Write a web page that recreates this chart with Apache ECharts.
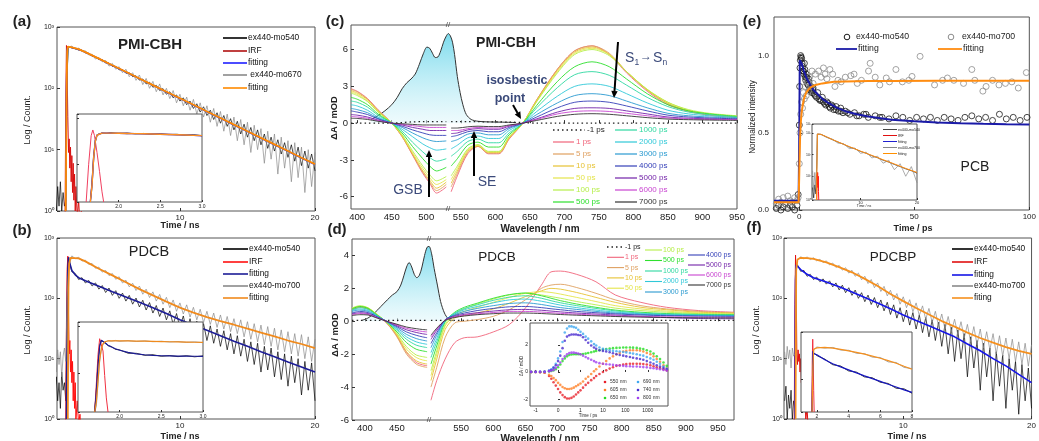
<!DOCTYPE html>
<html><head><meta charset="utf-8">
<script src="https://cdn.jsdelivr.net/npm/echarts@6/dist/echarts.min.js"></script>
<style>html,body{margin:0;padding:0;background:#fff}#c{width:1039px;height:441px}</style>
</head><body><div id="c"></div>
<script>
// ---------------- DATA ----------------
const tDecay = [0.75,0.85,0.95,1.05,1.15,1.25,1.35,1.45,1.55,1.65,1.75,2,2.25,2.5,2.75,3,3.25,3.5,3.75,4,4.25,4.5,4.75,5,5.25,5.5,5.75,6,6.25,6.5,6.75,7,7.25,7.5,7.75,8,8.25,8.5,8.75,9,9.25,9.5,9.75,10,10.25,10.5,10.75,11,11.25,11.5,11.75,12,12.25,12.5,12.75,13,13.25,13.5,13.75,14,14.25,14.5,14.75,15,15.25,15.5,15.75,16,16.25,16.5,16.75,17,17.25,17.5,17.75,18,18.25,18.5,18.75,19,19.25,19.5,19.75,20];
const aBlack = [1.5,1,2.5,1.2,3,1,2,1.2,1.5,200, 480,455,445,420,420,380,372,335,330,295,292,260,258,228,228,200,202,176,180,155,160,136,142,118,126,104,112,92,99,80,88,70,78,62,70,54,62,47,56,41,50,36,44,31,40,27,36,24,32,21,29,18,26,16,23,14,21,12,18,10.5,16,9.5,14.5,8.5,13,7.5,12,6.5,11,5.5,9.5,5,8.5,4.5];
const aGray = [0.5,0.5,0.5,0.5,0.5,0.5,0.5,0.5,1,180, 470,490,430,455,395,410,350,360,300,320,270,285,230,255,205,225,180,205,155,180,135,165,115,145,100,130,88,118,78,100,68,92,58,80,52,72,44,66,38,58,34,52,28,47,24,42,20,38,17,34,14,31,12,28,9,25,10,22,6,20,7,18,4,16,5,14,3,13,3.5,11,2,10,2.5,9];
const bBlack = [3,5,2,4,1.5,6,3,4,2,60, 470,275,258,205,220,180,198,160,180,142,163,125,148,112,134,100,122,90,112,80,101,72,93,64,85,57,76,50,69,44,62,37,56,33,51,29,46,25,42,23,38,20,35,18,31,16,29,14,26,12,24,11,21,9,19,8,18,6,16,6.5,15,5,13,4.5,12,3.5,11,4,10,2.5,9,3,8.5,2];
const bGray = [12,6,14,8,13,5,11,15,9,100, 320,505,455,480,415,430,365,378,315,330,272,290,238,258,207,228,180,200,155,178,135,160,117,142,103,128,90,116,80,104,70,94,61,84,55,78,49,71,44,66,40,61,37,57,33,53,31,50,28,46,26,44,23,41,21,38,19,36,17,34,16,32,14,30,13,28,12,26,11,25,10,23,9,21];
const fBlack = [2,3.5,1,2.5,1.5,3,1,2,1.5,300, 360,280,290,232,250,205,225,188,210,172,195,155,180,138,165,124,150,112,137,100,124,88,113,79,103,70,94,62,86,54,78,47,70,41,64,36,58,31,53,27,48,23,44,20,40,16,37,12,33,9,30,10,26,5,23,7,20,3,18,5,15,2,13,3.5,11.5,1.5,10,3,9,1.2,8,2,7,1.5];
const fGray = [13,8,16,10,14,7,15,11,12,250, 430,490,450,485,440,470,418,445,390,418,358,385,325,352,293,322,262,292,232,262,203,232,176,205,150,180,130,158,110,136,94,120,80,106,70,95,60,84,52,75,45,68,40,61,35,55,31,50,28,45,25,41,22,37,19,34,17,31,15,28,14,26,12,24,11,22,10,21,9,19,8,18,7.5,17];
const tIRF = [1.45,1.5,1.55,1.6,1.65,1.7,1.75,1.8,1.85,1.9,1.95,2,2.05,2.1,2.15,2.2,2.25,2.3,2.4,2.5,2.6,2.7,2.8];
const irfA = [0.5,1,60,500,220,35,9,15,5,11,3,8,2,6,1.5,4,1,2.5,0.8,1.5,0.6,1,0.5];
const irfB = [0.5,0.5,1,40,300,500,60,12,20,6,14,4,9,2,6,1.5,4,1,2,0.8,1.2,0.5,0.5];
const irfF = [0.5,1,80,520,200,12,8,14,9,12,6,10,4,7,2,5,1.5,3,1,1.5,0.6,0.5,0.5];
const aFitT = [1.55,1.6,1.65,1.7,2,2.5,3,4,5,6,7,8,9,10,11,12,13,14,15,16,17,18,19,20];
const aOrange = [1,60,400,480,465,435,390,305,238,186,145,113,88,69,54,42,32.8,25.6,20,15.6,12.2,9.5,7.4,5.8];
const aBlue = [1,80,420,478,462,432,388,303,236,184,144,112,87,68,53.5,41.5,32.5,25.3,19.8,15.4,12,9.4,7.3,5.7];
const bFitT = [1.6,1.65,1.7,1.75,1.85,2,2.25,2.5,3,4,5,6,7,8,9,10,11,12,13,14,15,16,17,18,19,20];
const bBlue = [1,50,300,480,380,290,245,220,195,158,128,105,86,70,56,44,36,29.5,24,19.5,16,13,10.8,8.8,7.3,6];
const bOrangeT = [1.7,1.75,1.8,1.9,2,2.5,3,4,5,6,7,8,9,10,11,12,13,14,15,16,17,18,19,20];
const bOrange = [1,150,380,470,485,460,410,310,240,185,142,112,88,70,58,49,42,36.5,31.5,27,23.5,20,17.5,15];
const fBlueT = [1.55,1.6,1.65,1.75,2,2.5,3,4,5,6,7,8,9,10,11,12,13,14,15,16,17,18,19,20];
const fBlue = [1,200,360,340,300,250,220,187,155,127,103,84,67,53,43,35,28.5,23,17.5,13.5,10,7.6,5.5,4];
const fOrangeT = [1.6,1.65,1.75,2,2.5,3,4,5,6,7,8,9,10,11,12,13,14,15,16,17,18,19,20];
const fOrange = [1,300,440,470,465,450,395,330,270,210,160,118,90,69,54,42,34,27,22,18.5,15.5,13.5,12];
// insets of decays
const tInA = [1.66,1.68,1.7,1.72,1.74,1.76,1.8,1.85,1.9,2.0,2.1,2.2,2.3,2.4,2.5,2.6,2.7,2.8,2.9,3.0];
const aInBlack = [15,40,150,330,440,470,480,470,485,472,478,462,470,455,460,445,450,432,438,420];
const aInGray = [15,30,120,300,420,465,475,482,470,480,465,470,458,462,448,452,440,440,428,425];
const aInOrange = [15,35,140,320,430,468,478,478,477,474,470,466,462,457,452,446,440,434,428,421];
const aInBlue = [15,38,145,325,432,469,479,479,476,473,469,465,461,456,451,445,439,433,427,420];
const irfInAT = [1.61,1.64,1.67,1.69,1.71,1.74,1.77,1.8,1.82];
const irfInA = [15,100,420,560,420,180,70,25,15];
const tInB = [1.7,1.72,1.74,1.76,1.78,1.8,1.83,1.86,1.9,1.95,2.0,2.1,2.2,2.3,2.4,2.5,2.6,2.7,2.8,2.9,3.0];
const bInBlue = [15,40,150,380,510,490,440,400,365,335,312,280,262,250,243,238,236,234,233,232,231];
const bInBlack = [15,45,160,400,500,480,450,390,375,325,318,270,268,243,250,232,240,228,238,226,236];
const bInOrange = [15,25,70,200,340,430,480,492,496,496,495,492,489,486,482,478,474,470,466,462,458];
const bInGray = [15,20,60,180,320,420,470,500,488,505,485,500,480,494,474,486,468,478,460,470,452];
const irfInBT = [1.7,1.72,1.74,1.76,1.78,1.8,1.82,1.84,1.86];
const irfInB = [15,60,250,550,600,300,90,30,15];
const tInF = [1.7,1.75,1.8,2,2.5,3,3.5,4,4.5,5,5.5,6,6.5,7,7.5,8];
const fInOrange = [21,200,430,460,470,455,430,400,370,340,310,280,250,220,190,165];
const fInGray = [21,180,420,480,455,470,415,410,355,350,295,290,235,228,180,170];
const fInBlue = [21,390,350,330,260,215,185,160,138,120,105,92,80,70,61,54];
const fInBlack = [21,380,360,318,268,205,192,152,143,114,109,88,83,66,64,52];
const irfInFT = [1.68,1.71,1.74,1.77,1.8,1.83];
const irfInF = [21,250,700,250,60,21];
const tInE = [1.5,1.7,1.9,2.1,2.25,2.35,2.5,3,4,5,6,7,8,9,10,11,12,13,14,15,16,17,18,19,20];
const eInGray = [18,2,15,3,50,900,960,840,620,520,340,320,190,200,115,130,70,85,40,55,20,38,10,28,5];
const eInBlack = [3,1,4,1.5,30,880,990,870,650,490,380,300,225,185,140,115,88,72,55,45,35,28,22,18,14];
const eInFitT = [2.2,2.35,2.5,3,4,5,6,7,8,10,12,14,16,18,20];
const eInOrange = [0.8,900,980,860,660,500,390,300,235,145,92,58,37,23,15];
const irfInET = [2.25,2.3,2.35,2.4,2.45,2.5,2.55,2.6];
const irfInE = [0.8,12,4,15,3,10,2,0.8];
// (e) normalized kinetics (ps)
const eBlackT = [-10,-9,-8,-7,-6,-5,-4,-3,-2,-1,-0.5,0,0.3,0.6,1,1.4,1.8,2.2,2.6,3,3.5,4,4.5,5,5.5,6,7,8,9,10,11,12,13,14,15,16,17,18,19,20,22,24,26,28,30,33,36,39,42,45,48,51,54,57,60,63,66,69,72,75,78,81,84,87,90,93,96,99];
const eBlack = [0.01,0.03,0.0,0.02,0.04,0.01,0.03,0.02,0.0,0.03,0.1,0.55,0.92,1.0,0.98,0.93,0.9,0.95,0.86,0.88,0.82,0.85,0.78,0.8,0.76,0.79,0.74,0.76,0.71,0.73,0.69,0.7,0.67,0.68,0.65,0.67,0.64,0.66,0.63,0.64,0.62,0.63,0.61,0.62,0.6,0.61,0.6,0.59,0.61,0.6,0.58,0.6,0.59,0.6,0.58,0.6,0.59,0.58,0.6,0.61,0.59,0.6,0.58,0.62,0.59,0.6,0.58,0.6];
const eBlack2T = [0.15,0.45,0.8,1.2,1.6,2.0,2.4,2.8,3.2,3.8,4.2,4.8,5.2,5.8,6.5,7.5,8.5,9.5,10.5,11.5,12.5,13.5,14.5,16,18,21,25,29,35];
const eBlack2 = [0.8,0.97,0.99,0.95,0.9,0.88,0.91,0.84,0.86,0.81,0.83,0.79,0.77,0.78,0.75,0.73,0.72,0.71,0.7,0.68,0.69,0.66,0.67,0.65,0.64,0.63,0.61,0.62,0.6];
const eGrayT = [-10,-9,-8,-7,-6,-5,-4,-3,-2,-1,-0.5,0,0.3,0.6,1,1.4,1.8,2.2,2.6,3,3.5,4,4.5,5,5.5,6,7,8.4,9.5,10.5,11.2,12,13.3,14.5,15.5,16.8,18.2,20,22.4,23.8,25.2,27,30.1,30.8,33,35,37.8,39.2,42,44.8,47.6,49,52.5,58.8,62.3,64.4,67.2,71.4,75,76.3,79.8,81.2,84,86.8,89.6,92.4,95.2,98.7];
const eGray = [0.04,0.07,0.05,0.08,0.04,0.09,0.06,0.05,0.08,0.06,0.08,0.3,0.5,0.62,0.7,0.66,0.76,0.72,0.8,0.74,0.83,0.77,0.86,0.8,0.9,0.82,0.88,0.9,0.86,0.92,0.88,0.85,0.91,0.88,0.8,0.84,0.83,0.86,0.87,0.88,0.82,0.84,0.9,0.95,0.86,0.81,0.855,0.83,0.91,0.83,0.84,0.865,0.995,0.81,0.84,0.855,0.84,0.82,0.91,0.84,0.77,0.8,0.84,0.81,0.82,0.83,0.79,0.89];
const eBlueT = [-11,-0.3,0,0.2,0.5,1,2,3,4,6,8,10,13,16,20,25,30,40,50,60,70,80,90,100];
const eBlue = [0.06,0.06,0.5,0.97,0.98,0.95,0.9,0.86,0.83,0.78,0.75,0.72,0.69,0.665,0.64,0.62,0.605,0.585,0.575,0.567,0.562,0.558,0.555,0.553];
const eOrangeT = [-11,-0.3,0,0.3,0.6,1,1.5,2,3,4,5,7,10,15,20,30,40,60,80,100];
const eOrange = [0.05,0.05,0.25,0.45,0.56,0.63,0.68,0.72,0.76,0.78,0.795,0.81,0.82,0.83,0.833,0.835,0.836,0.837,0.837,0.837];
// (c) TA spectra PMI-CBH (11 points before the axis break, 19 after)
const wlC = [391,400,415,430,450,465,480,495,505,515,529,536,545,560,575,590,605,620,640,660,690,715,740,765,790,820,850,880,910,950];
const cM1 = [0,0,0,0,0,0.05,0.1,0.12,0.12,0.12,0.12,0.12,0.12,0.12,0.12,0.1,0.1,0.08,0.05,0,0,0,0,0,0,0,0,0,0,0];
const c1 = [2.8,2.6,2.0,1.1,0,-1.1,-2.6,-4.1,-4.9,-5.7,-5.2,-5.6,-4.3,-2.5,-1.9,-2.5,-2.5,-1.3,0,1.9,4.4,5.9,6.3,5.6,4.1,2.6,1.5,0.95,0.65,0.45];
const c5 = [2.75,2.55,1.95,1.05,0,-1.1,-2.55,-4.0,-4.8,-5.5,-5.0,-5.2,-4.1,-2.4,-1.9,-2.45,-2.45,-1.25,0,1.9,4.4,5.9,6.3,5.7,4.2,2.7,1.6,1.0,0.7,0.5];
const c10 = [2.65,2.45,1.9,1.0,0,-1.05,-2.5,-3.9,-4.65,-5.3,-4.8,-4.9,-3.9,-2.3,-1.85,-2.4,-2.4,-1.2,0,1.85,4.3,5.8,6.2,5.6,4.2,2.7,1.6,1.0,0.7,0.5];
const c50 = [2.55,2.35,1.8,0.95,0,-1.0,-2.4,-3.7,-4.45,-5.0,-4.6,-4.6,-3.7,-2.2,-1.8,-2.35,-2.35,-1.15,0,1.8,4.2,5.7,6.1,5.6,4.2,2.75,1.7,1.05,0.75,0.55];
const c100 = [2.45,2.25,1.75,0.9,0,-0.95,-2.25,-3.5,-4.2,-4.7,-4.35,-4.3,-3.5,-2.1,-1.75,-2.3,-2.3,-1.1,0,1.75,4.1,5.6,6.0,5.5,4.2,2.75,1.7,1.1,0.8,0.6];
const c500 = [2.1,1.95,1.5,0.75,0,-0.8,-1.9,-2.9,-3.5,-3.9,-3.6,-3.5,-2.9,-1.8,-1.55,-1.95,-1.95,-0.95,0,1.45,3.4,4.6,5.0,4.6,3.6,2.4,1.5,1.0,0.75,0.55];
const c1000 = [1.8,1.7,1.3,0.65,0,-0.65,-1.55,-2.35,-2.8,-3.1,-2.9,-2.7,-2.3,-1.5,-1.3,-1.6,-1.6,-0.8,0,1.25,2.9,3.95,4.2,3.9,3.1,2.1,1.35,0.9,0.7,0.5];
const c2000 = [1.5,1.4,1.05,0.5,0,-0.5,-1.1,-1.7,-2.0,-2.2,-2.1,-2.1,-1.8,-1.2,-1.05,-1.25,-1.25,-0.6,0,0.95,2.2,3.0,3.2,3.0,2.4,1.65,1.05,0.75,0.6,0.45];
const c3000 = [1.2,1.1,0.85,0.4,0,-0.35,-0.8,-1.2,-1.4,-1.5,-1.45,-1.5,-1.35,-0.9,-0.8,-0.95,-0.95,-0.45,0,0.7,1.65,2.25,2.4,2.25,1.8,1.25,0.8,0.6,0.5,0.4];
const c4000 = [1.0,0.9,0.7,0.35,0,-0.25,-0.55,-0.8,-0.95,-1.0,-1.0,-1.1,-1.0,-0.7,-0.6,-0.7,-0.7,-0.35,0,0.5,1.25,1.7,1.8,1.7,1.4,1.0,0.65,0.5,0.42,0.35];
const c5000 = [0.7,0.65,0.5,0.25,0,-0.15,-0.35,-0.5,-0.6,-0.6,-0.6,-0.85,-0.8,-0.55,-0.45,-0.5,-0.5,-0.25,0,0.35,0.9,1.2,1.25,1.2,1.0,0.75,0.5,0.4,0.35,0.3];
const c6000 = [0.55,0.5,0.4,0.2,0,-0.1,-0.2,-0.3,-0.35,-0.35,-0.35,-0.6,-0.6,-0.45,-0.35,-0.4,-0.4,-0.2,0,0.3,0.75,0.95,1.0,0.95,0.8,0.6,0.42,0.35,0.3,0.28];
const c7000 = [0.4,0.38,0.3,0.15,0,-0.05,-0.1,-0.15,-0.15,-0.15,-0.15,-0.4,-0.4,-0.3,-0.25,-0.28,-0.28,-0.15,0,0.22,0.55,0.72,0.77,0.72,0.6,0.45,0.33,0.28,0.25,0.22];
const absWlC = [420,430,440,450,458,465,472,478,484,490,496,501,505,509,513,517,521,525,529,532,535,538,541,545,549,553,558,565,575,590,610,630];
const absC = [0.3,0.6,1.0,1.5,2.1,2.8,3.3,3.6,4.0,4.8,5.7,6.2,6.1,5.7,5.35,5.4,5.9,6.6,7.1,7.3,7.1,6.6,5.6,3.8,2.5,1.5,0.7,0.3,0.15,0.1,0.08,0.05];
// (d) TA spectra PDCB (10 points before the break, 19 after)
const wlD = [380,392,405,420,435,450,465,480,490,497,503,512,525,540,555,575,600,625,650,675,690,705,730,760,790,830,870,920,975];
const dM1 = [0.05,0.05,0.05,0.05,0.05,0.05,0.05,0.05,0.05,0.05,0.05,0.05,0.05,0.05,0.05,0.05,0.05,0.05,0.05,0.05,0.05,0.05,0.05,0.05,0.05,0.05,0.05,0.05,0.05];
const d1 = [0.7,0.85,0.75,0.35,-0.15,-0.9,-1.9,-2.5,-2.65,-2.7,-4.8,-3.6,-2.3,-1.3,-1.0,-0.95,-0.65,-0.2,0.8,2.2,3.0,3.05,2.85,2.4,1.6,1.15,0.85,0.65,0.55];
const d5 = [0.7,0.85,0.75,0.35,-0.15,-0.95,-2.0,-2.6,-2.75,-2.8,-4.0,-2.8,-1.0,-0.1,0.0,0.1,0.3,0.7,1.3,2.0,2.2,2.25,2.05,1.7,1.3,0.95,0.75,0.6,0.5];
const d10 = [0.75,0.9,0.8,0.38,-0.1,-0.85,-1.85,-2.4,-2.55,-2.6,-3.6,-2.3,-0.5,0.2,0.35,0.5,0.75,1.1,1.5,1.85,2.0,1.95,1.75,1.45,1.15,0.85,0.7,0.55,0.5];
const d50 = [0.8,0.9,0.8,0.38,-0.1,-0.8,-1.7,-2.2,-2.35,-2.4,-3.3,-2.0,-0.3,0.35,0.6,0.85,1.15,1.45,1.7,1.8,1.75,1.65,1.45,1.2,0.95,0.75,0.62,0.5,0.45];
const d100 = [0.8,0.95,0.82,0.38,-0.1,-0.75,-1.55,-2.05,-2.15,-2.2,-3.0,-1.8,-0.2,0.45,0.75,1.05,1.35,1.6,1.7,1.6,1.5,1.4,1.2,1.0,0.8,0.65,0.55,0.47,0.43];
const d500 = [0.75,0.9,0.78,0.35,-0.08,-0.65,-1.3,-1.7,-1.8,-1.85,-2.6,-1.5,-0.05,0.55,0.85,1.1,1.4,1.62,1.72,1.55,1.4,1.25,1.05,0.85,0.68,0.55,0.47,0.42,0.4];
const d1000 = [0.7,0.82,0.72,0.33,-0.05,-0.55,-1.1,-1.45,-1.55,-1.6,-2.2,-1.25,0.0,0.5,0.78,1.0,1.27,1.47,1.55,1.4,1.25,1.12,0.95,0.78,0.63,0.5,0.44,0.4,0.38];
const d2000 = [0.65,0.75,0.66,0.3,-0.05,-0.48,-0.95,-1.25,-1.35,-1.4,-1.9,-1.05,0.05,0.45,0.7,0.9,1.12,1.3,1.35,1.22,1.1,0.98,0.83,0.68,0.56,0.46,0.4,0.37,0.35];
const d3000 = [0.6,0.68,0.6,0.28,-0.03,-0.4,-0.8,-1.05,-1.15,-1.2,-1.6,-0.85,0.08,0.4,0.6,0.78,0.95,1.08,1.12,1.02,0.92,0.83,0.72,0.6,0.5,0.42,0.37,0.34,0.32];
const d4000 = [0.5,0.6,0.53,0.25,-0.02,-0.33,-0.65,-0.85,-0.95,-1.0,-1.35,-0.7,0.08,0.35,0.5,0.65,0.78,0.88,0.9,0.83,0.76,0.7,0.6,0.52,0.45,0.38,0.34,0.31,0.3];
const d5000 = [0.45,0.52,0.47,0.22,-0.02,-0.27,-0.52,-0.68,-0.76,-0.8,-1.1,-0.55,0.08,0.3,0.42,0.52,0.62,0.7,0.72,0.67,0.62,0.57,0.5,0.44,0.38,0.3,0.22,0.17,0.15];
const d6000 = [0.4,0.47,0.42,0.2,-0.01,-0.22,-0.43,-0.56,-0.62,-0.65,-0.95,-0.48,0.06,0.27,0.37,0.45,0.53,0.6,0.6,0.56,0.52,0.48,0.43,0.38,0.33,0.29,0.27,0.25,0.24];
const d7000 = [0.35,0.4,0.38,0.18,-0.01,-0.18,-0.35,-0.45,-0.5,-0.52,-0.85,-0.42,0.05,0.23,0.32,0.4,0.46,0.5,0.5,0.47,0.44,0.41,0.37,0.33,0.29,0.25,0.23,0.21,0.2];
const absWlD = [395,405,415,425,435,443,450,456,461,465,469,473,477,481,485,489,493,497,500,504,508,513,518,524,530,538];
const absD = [0.05,0.2,0.5,0.9,1.3,1.6,1.8,2.2,2.8,3.3,3.57,3.3,2.85,2.65,2.8,3.3,4.0,4.5,4.55,4.1,3.2,2.2,1.2,0.5,0.15,0.03];
// (d) inset kinetics (ps)
const tInD = [-1.2,-1,-0.8,-0.6,-0.4,-0.3,-0.2,-0.1,0,0.1,0.2,0.3,0.4,0.5,0.6,0.7,0.8,0.9,1,1.3,1.7,2.2,3,4,5,7,10,14,20,28,40,56,80,110,160,220,320,450,630,900,1300,1800,2500,3500,5000,7000];
const k550 = [0,0.02,-0.02,-0.05,-0.3,-0.5,-0.75,-1.0,-1.25,-1.5,-1.7,-1.85,-1.95,-1.95,-1.9,-1.8,-1.65,-1.5,-1.35,-1.15,-0.95,-0.8,-0.6,-0.45,-0.3,-0.15,0,0.12,0.25,0.35,0.45,0.5,0.55,0.58,0.6,0.6,0.6,0.6,0.58,0.55,0.5,0.42,0.35,0.28,0.2,0.12];
const k605 = [0,-0.02,0,-0.05,-0.2,-0.3,-0.45,-0.6,-0.8,-0.95,-1.1,-1.2,-1.25,-1.25,-1.22,-1.15,-1.05,-0.95,-0.85,-0.7,-0.5,-0.35,-0.15,0.05,0.2,0.4,0.6,0.8,1.0,1.15,1.3,1.4,1.5,1.55,1.6,1.6,1.6,1.57,1.5,1.4,1.3,1.15,0.95,0.75,0.5,0.3];
const k650 = [0,0.01,0,0.02,0.04,0.08,0.12,0.2,0.35,0.55,0.8,1.0,1.15,1.25,1.28,1.3,1.3,1.3,1.3,1.32,1.35,1.4,1.45,1.5,1.55,1.6,1.65,1.68,1.72,1.75,1.77,1.78,1.8,1.8,1.8,1.79,1.77,1.73,1.68,1.6,1.5,1.35,1.15,0.95,0.7,0.45];
const k690 = [0.02,0,0.03,0,0.1,0.2,0.35,0.6,1.0,1.5,2.2,2.9,3.2,3.35,3.35,3.3,3.25,3.1,2.95,2.8,2.6,2.45,2.25,2.05,1.95,1.8,1.7,1.65,1.6,1.55,1.52,1.5,1.47,1.44,1.4,1.35,1.3,1.25,1.2,1.1,1.0,0.9,0.75,0.6,0.4,0.25];
const k740 = [0,0.02,0,0.03,0.08,0.15,0.3,0.5,0.8,1.2,1.75,2.3,2.6,2.7,2.75,2.75,2.75,2.72,2.7,2.55,2.35,2.15,1.95,1.8,1.7,1.6,1.55,1.5,1.45,1.38,1.3,1.25,1.2,1.15,1.1,1.05,1.0,0.95,0.9,0.8,0.7,0.6,0.5,0.4,0.3,0.2];
const k800 = [0.01,0,0.02,0,0.05,0.1,0.15,0.3,0.5,0.7,0.95,1.15,1.3,1.4,1.42,1.42,1.4,1.35,1.3,1.2,1.1,1.0,0.9,0.8,0.72,0.65,0.6,0.57,0.55,0.52,0.5,0.47,0.45,0.43,0.42,0.4,0.4,0.38,0.36,0.34,0.3,0.27,0.23,0.2,0.15,0.1];
// ticks and labels
const xTicksC = [400,450,500,550,600,650,700,750,800,850,900,950];
const xTicksD = [400,450,550,600,650,700,750,800,850,900,950];
const dInTickT = [-1,0,1,10,100,1000];
const dInTickLbl = ['-1','0','1','10','100','1000'];
const taLabels = ['-1 ps','1 ps','5 ps','10 ps','50 ps','100 ps','500 ps','1000 ps','2000 ps','3000 ps','4000 ps','5000 ps','6000 ps','7000 ps'];
const taColors = ['#222','#f0647a','#dfa060','#e6c232','#e4e44a','#b6ee4a','#2ee02e','#2ed8a0','#30c8d8','#2a9ad0','#3540b8','#7222a8','#c844d0','#333'];
const kinLabels = ['550 nm','605 nm','650 nm','690 nm','740 nm','800 nm'];
const kinColors = ['#e8202a','#ff7f27','#22dd22','#3fa8f0','#4a2cd0','#a040f0'];
const legA = [['ex440-mo540','#000'],['IRF','#b01010'],['fitting','#1f1fff'],[' ex440-mo670','#8a8a8a'],['fitting','#ff8a00']];
const legB = [['ex440-mo540','#000'],['IRF','#ff1010'],['fitting','#1c1c96'],['ex440-mo700','#8a8a8a'],['fitting','#f08a1c']];
const legF = [['ex440-mo540','#000'],['IRF','#e01010'],['fitting','#1515e6'],['ex440-mo700','#8a8a8a'],['fiting','#f5901e']];
const legEIn = [['ex440-mo540','#444'],['IRF','#e01010'],['fitting','#2020d0'],['ex440-mo700','#888'],['fitting','#ff9000']];

// ---------------- LAYOUT ----------------
const F = '"Liberation Sans", Arial, sans-serif';
const G = {a:[57,27,258,184], aIn:[77,114,125,88], b:[57,238,258,181], bIn:[78,322,125,90],
  c:[351,25,386,184], d:[352,239,382,181], dIn:[530,323,138,83],
  e:[774,17,264,193], eIn:[812,124,105,76], f:[784,238,256,181], fIn:[801,332,111,80]};
const order = ['a','aIn','b','bIn','c','d','dIn','e','eIn','f','fIn'];
const INSET = new Set([1,3,6,8,10]);
const tu = t => t <= 1 ? t : 1 + Math.log10(t);
const sup = {0:'\u2070',1:'\u00B9',2:'\u00B2',3:'\u00B3'};
const logLbl = v => '10' + (sup[Math.round(Math.log10(v))] || '');
const P = (xs, ys) => xs.map((x,i) => [x, ys[i]]);
const PB = (xs, ys, brk, gx) => { const a = P(xs, ys); a.splice(brk, 0, [gx, null]); return a; };

function mk(gi, o) {
  const tick = {show:true, inside:true, length:o.tl||3, lineStyle:{color:'#333', width:1}};
  const lab = {show:!o.noLab, fontSize:o.fs||8, color:'#222', margin:o.m==null?3:o.m, fontFamily:F,
    showMinLabel:true, showMaxLabel:!o.noMax};
  if (o.ticks) { tick.customValues = o.ticks; lab.customValues = o.ticks; }
  if (o.fmt) lab.formatter = o.fmt;
  const a = {gridIndex:gi, type:o.type||'value', min:o.min, max:o.max, z:INSET.has(gi)?30:0,
    axisLine:{show:false}, splitLine:{show:false}, axisTick:tick, axisLabel:lab};
  if (o.interval) a.interval = o.interval;
  if (o.type === 'log') a.logBase = 10;
  return a;
}
const xAxis = [
  mk(0,{min:0.9,max:20,ticks:[10,20],fs:8}),
  mk(1,{min:1.5,max:3,ticks:[2,2.5,3],fs:5,m:2,tl:2,fmt:v=>v.toFixed(1)}),
  mk(2,{min:0.9,max:20,ticks:[10,20],fs:8}),
  mk(3,{min:1.5,max:3,ticks:[2,2.5,3],fs:5,m:2,tl:2,fmt:v=>v.toFixed(1)}),
  mk(4,{min:391,max:950,ticks:xTicksC,fs:9.5}),
  mk(5,{min:380,max:975,ticks:xTicksD,fs:9.5}),
  mk(6,{min:-1.25,max:4.9,ticks:dInTickT.map(tu),fs:5,m:2,tl:2,
    fmt:v=>{let b=0;dInTickT.forEach((t,i)=>{if(Math.abs(tu(t)-v)<Math.abs(tu(dInTickT[b])-v))b=i;});return dInTickLbl[b];}}),
  mk(7,{min:-11,max:100,ticks:[0,50,100],fs:8}),
  mk(8,{min:1.4,max:20,ticks:[10,20],fs:4,m:1,tl:2}),
  mk(9,{min:0.7,max:20,ticks:[10,20],fs:8}),
  mk(10,{min:1,max:8,ticks:[2,4,6,8],fs:5,m:2,tl:2})
];
const yAxis = [
  mk(0,{type:'log',min:1,max:1000,fs:7,fmt:logLbl}),
  mk(1,{type:'log',min:15,max:1250,noLab:true,tl:2}),
  mk(2,{type:'log',min:1,max:1000,fs:7,fmt:logLbl}),
  mk(3,{type:'log',min:15,max:1250,noLab:true,tl:2}),
  mk(4,{min:-7,max:8,ticks:[-6,-3,0,3,6],fs:9.5}),
  mk(5,{min:-6,max:5,interval:2,fs:9.5,noMax:true}),
  mk(6,{min:-2.5,max:3.6,ticks:[-2,0,2],fs:5,m:2,tl:2}),
  mk(7,{min:0,max:1.25,interval:0.5,fs:8,m:5,noMax:true,fmt:v=>v.toFixed(1)}),
  mk(8,{type:'log',min:0.8,max:2600,fs:3.5,m:1,tl:1.5,fmt:logLbl}),
  mk(9,{type:'log',min:1,max:1000,fs:7,m:2,fmt:logLbl}),
  mk(10,{type:'log',min:21,max:990,noLab:true,tl:2})
];
const grid = order.map((k,i) => ({left:G[k][0], top:G[k][1], width:G[k][2], height:G[k][3],
  show:!INSET.has(i), borderColor:'#555', borderWidth:1, backgroundColor:'transparent'}));

// ---------------- SERIES ----------------
const series = [];
const S = o => series.push(Object.assign({type:'line', symbol:'none', silent:true, animation:false}, o));
const ln = (gi, data, color, w, extra) => S(Object.assign({xAxisIndex:gi, yAxisIndex:gi, data,
  lineStyle:{color, width:w}, itemStyle:{color}, z:INSET.has(gi)?30:2}, extra||{}));

// (a)
ln(0, P(tDecay,aBlack), '#000', 0.7);
ln(0, P(tIRF,irfA), '#d81010', 1);
ln(0, P(aFitT,aBlue), '#1f1fff', 1.6);
ln(0, P(tDecay,aGray), '#8a8a8a', 0.7);
ln(0, P(aFitT,aOrange), '#ff8a00', 1.8);
ln(1, P(tInA,aInBlack), '#000', 1);
ln(1, P(tInA,aInGray), '#8a8a8a', 1);
ln(1, P(irfInAT,irfInA), '#f04060', 1);
ln(1, P(tInA,aInBlue), '#2020ff', 1.4);
ln(1, P(tInA,aInOrange), '#ff9020', 1.4);
// (b)
ln(2, P(tDecay,bBlack), '#000', 0.7);
ln(2, P(tIRF,irfB), '#ff1010', 1);
ln(2, P(bFitT,bBlue), '#1c1c96', 1.6);
ln(2, P(tDecay,bGray), '#8a8a8a', 0.7);
ln(2, P(bOrangeT,bOrange), '#f08a1c', 1.8);
ln(3, P(tInB,bInBlack), '#000', 0.8);
ln(3, P(tInB,bInGray), '#8a8a8a', 0.8);
ln(3, P(irfInBT,irfInB), '#f03040', 1);
ln(3, P(tInB,bInBlue), '#1c1c96', 1.2);
ln(3, P(tInB,bInOrange), '#f08a1c', 1.2);
// (c)
const grad = () => new echarts.graphic.LinearGradient(0,0,0,1,[{offset:0,color:'rgba(110,215,235,0.9)'},{offset:1,color:'rgba(225,247,251,0.55)'}]);
ln(4, P(absWlC,absC), '#333', 1, {smooth:0.3, areaStyle:{color:grad(), opacity:1}});
[cM1,c1,c5,c10,c50,c100,c500,c1000,c2000,c3000,c4000,c5000,c6000,c7000].forEach((arr,i) =>
  ln(4, PB(wlC,arr,11,532), taColors[i], 1, {smooth:0.3, lineStyle:{color:taColors[i], width:i===0?1.3:0.9, type:i===0?[1.5,3]:'solid'}}));
// (d)
ln(5, P(absWlD,absD), '#333', 1, {smooth:0.3, areaStyle:{color:grad(), opacity:1}});
[dM1,d1,d5,d10,d50,d100,d500,d1000,d2000,d3000,d4000,d5000,d6000,d7000].forEach((arr,i) =>
  ln(5, PB(wlD,arr,10,500), taColors[i], 1, {smooth:0.3, lineStyle:{color:taColors[i], width:i===0?1.3:0.9, type:i===0?[1.5,3]:'solid'}}));
[k550,k605,k650,k690,k740,k800].forEach((arr,i) => S({type:'scatter', xAxisIndex:6, yAxisIndex:6, z:30,
  symbol:'circle', symbolSize:2.6, itemStyle:{color:kinColors[i]}, data:tInD.map((t,j)=>[tu(t),arr[j]]),
  markLine: i===0 ? {silent:true, symbol:['none','none'], label:{show:false}, animation:false,
    lineStyle:{color:'#000', width:1, type:'solid'}, data:[{yAxis:0}]} : undefined}));
// (e)
const circ = c => ({color:'rgba(255,255,255,0)', borderColor:c, borderWidth:1});
S({type:'scatter', xAxisIndex:7, yAxisIndex:7, z:3, symbol:'circle', symbolSize:6, itemStyle:circ('#1a1a1a'),
  data:P(eBlackT,eBlack).concat(P(eBlack2T,eBlack2))});
S({type:'scatter', xAxisIndex:7, yAxisIndex:7, z:3, symbol:'circle', symbolSize:6, itemStyle:circ('#8c8c8c'),
  data:P(eGrayT,eGray)});
ln(7, P(eBlueT,eBlue), '#1a1aa8', 2, {z:4});
ln(7, P(eOrangeT,eOrange), '#ff8c10', 2, {z:4});
ln(8, P(tInE,eInBlack), '#000', 0.6);
ln(8, P(tInE,eInGray), '#8a8a8a', 0.7);
ln(8, P(irfInET,irfInE), '#ff1010', 1);
ln(8, P(eInFitT,eInOrange), '#ff8c10', 1);
// (f)
ln(9, P(tDecay,fBlack), '#000', 0.7);
ln(9, P(tIRF,irfF), '#e01010', 1);
ln(9, P(fBlueT,fBlue), '#1515e6', 1.6);
ln(9, P(tDecay,fGray), '#8a8a8a', 0.7);
ln(9, P(fOrangeT,fOrange), '#f5901e', 1.8);
ln(10, P(tInF,fInBlack), '#000', 0.8);
ln(10, P(tInF,fInGray), '#8a8a8a', 0.8);
ln(10, P(irfInFT,irfInF), '#f03040', 1);
ln(10, P(tInF,fInBlue), '#1515c0', 1.2);
ln(10, P(tInF,fInOrange), '#f5901e', 1.2);

// ---------------- GRAPHIC (texts, legends, annotations) ----------------
const gfx = [];
function T(x, y, text, o) {
  o = o || {};
  gfx.push({type:'text', x, y, z:50, rotation:o.r ? o.r*Math.PI/180 : 0, silent:true,
    style:{x:0, y:0, text, fill:o.c||'#222', font:(o.w||'normal')+' '+(o.s||10)+'px '+(o.f||F),
      textAlign:o.a||'center', textVerticalAlign:'middle', align:o.a||'center', verticalAlign:'middle'}});
}
function Ln(x1,y1,x2,y2,c,w,dash) {
  gfx.push({type:'line', z:50, silent:true, shape:{x1,y1,x2,y2}, style:{stroke:c, lineWidth:w||1, lineDash:dash||null}});
}
function arrow(x1,y1,x2,y2) {
  const ang = Math.atan2(y2-y1, x2-x1), L = 7, W = 3.2;
  const bx = x2-L*Math.cos(ang), by = y2-L*Math.sin(ang);
  const px = -Math.sin(ang)*W, py = Math.cos(ang)*W;
  Ln(x1,y1,bx,by,'#000',2);
  gfx.push({type:'polygon', z:50, silent:true, shape:{points:[[x2,y2],[bx+px,by+py],[bx-px,by-py]]}, style:{fill:'#000'}});
}
// inset backgrounds / frames (under inset series, over main series)
['aIn','bIn','dIn','eIn','fIn'].forEach(k => gfx.push({type:'rect', z:20, silent:true,
  shape:{x:G[k][0], y:G[k][1], width:G[k][2], height:G[k][3]}, style:{fill:'#fff', stroke:'#555', lineWidth:1}}));
// panel letters
T(22,22,'(a)',{s:15,w:'bold'}); T(22,231,'(b)',{s:15,w:'bold'});
T(335,22,'(c)',{s:15,w:'bold'}); T(337,230,'(d)',{s:15,w:'bold'});
T(752,22,'(e)',{s:15,w:'bold'}); T(754,228,'(f)',{s:15,w:'bold'});
// titles
T(150,45,'PMI-CBH',{s:15,w:'bold'}); T(149,252,'PDCB',{s:14.5});
T(506,43,'PMI-CBH',{s:14,w:'bold'}); T(497,257,'PDCB',{s:13.5});
T(893,257,'PDCBP',{s:13.5}); T(975,167,'PCB',{s:14});
// axis names
T(180,226,'Time / ns',{s:9,w:'bold'}); T(180,437,'Time / ns',{s:9,w:'bold'});
T(540,229,'Wavelength / nm',{s:10,w:'bold'}); T(540,439,'Wavelength / nm',{s:10,w:'bold'});
T(913,229,'Time / ps',{s:9,w:'bold'}); T(907,437,'Time / ns',{s:9,w:'bold'});
T(28,120,'Log / Count.',{s:9,r:90}); T(28,330,'Log / Count.',{s:9,r:90}); T(757,330,'Log / Count.',{s:9,r:90});
T(334,118,'\u0394A / mOD',{s:9.3,w:'bold',r:90}); T(335,335,'\u0394A / mOD',{s:9.3,w:'bold',r:90});
T(753,117,'Normalized intensity',{s:8.2,r:90});
T(522,366,'\u0394A / mOD',{s:4.5,r:90}); T(588,416,'Time / ps',{s:4.5});
T(864,206,'Time / ns',{s:3.5});
// axis break marks
[[448,25],[448,209],[429,239],[429,420]].forEach(p => T(p[0],p[1],'//',{s:8,c:'#444'}));
// legends (a),(b),(f)
function legRows(rows, x1, x2, ys, fs) {
  rows.forEach((r,i) => { Ln(x1,ys[i],x2,ys[i],r[1],1.6); T(x2+1,ys[i],r[0],{s:fs,a:'left',c:'#111'}); });
}
legRows(legA, 223, 247, [38,51,63,75,88], 8.4);
legRows(legB, 223, 248, [249,262,274,286,298], 8.4);
legRows(legF, 952, 973, [249,262,275,286,298], 8.4);
// (e) legend
gfx.push({type:'circle', z:50, shape:{cx:847,cy:37,r:2.8}, style:{fill:'none', stroke:'#1a1a1a', lineWidth:1}});
T(856,37,'ex440-mo540',{s:8.7,a:'left'});
gfx.push({type:'circle', z:50, shape:{cx:951,cy:37,r:2.8}, style:{fill:'none', stroke:'#8c8c8c', lineWidth:1}});
T(962,37,'ex440-mo700',{s:8.7,a:'left'});
Ln(836,49,857,49,'#1a1aa8',1.8); T(858,49,'fitting',{s:8.7,a:'left'});
Ln(938,49,962,49,'#ff8c10',1.8); T(963,49,'fitting',{s:8.7,a:'left'});
legEIn.forEach((r,i) => { const y = 129.5 + 6*i; Ln(883,y,897,y,r[1],1); T(898,y,r[0],{s:3.6,a:'left'}); });
// (c) legend
taLabels.forEach((lab,i) => {
  const col = i < 7 ? 0 : 1, row = col ? i-7 : i, y = 130 + 12*row;
  const x1 = col ? 615 : 553, x2 = col ? 637 : (i===0 ? 585 : 574);
  Ln(x1,y,x2,y,taColors[i],i===0?1.3:1.2,i===0?[1.5,3]:null);
  T(x2+2,y,lab,{s:8,a:'left',c:taColors[i]});
});
// (d) legend
taLabels.forEach((lab,i) => {
  let x1, y;
  if (i < 5) { x1 = 607; y = 247 + 10.3*i; } else if (i < 10) { x1 = 645; y = 250 + 10.5*(i-5); } else { x1 = 688; y = 255 + 10*(i-10); }
  Ln(x1,y,x1+17,y,taColors[i],i===0?1.3:1.1,i===0?[1.5,3]:null);
  T(x1+18,y,lab,{s:7,a:'left',c:taColors[i]});
});
// (d) inset legend
kinLabels.forEach((lab,i) => {
  const x = i < 3 ? 605 : 638, y = 382 + 8*(i%3);
  gfx.push({type:'circle', z:50, shape:{cx:x,cy:y,r:1.3}, style:{fill:kinColors[i]}});
  T(x+5,y,lab,{s:5,a:'left',c:'#333'});
});
// (c) annotations
const ann = '#3b4a7a';
T(408,190,'GSB',{s:14,c:ann}); arrow(429,197,429,150);
T(487,182,'SE',{s:14,c:ann}); arrow(474,176,474,131);
T(517,81,'isosbestic',{s:12.5,w:'bold',c:ann}); T(510,99,'point',{s:12.5,w:'bold',c:ann});
arrow(513,105,521,119);
T(625,58,'S',{s:14,a:'left',c:ann}); T(634.5,63,'1',{s:8.5,a:'left',c:ann});
T(640,57,'\u2192',{s:12,a:'left',c:ann}); T(653,58,'S',{s:14,a:'left',c:ann}); T(662.5,63,'n',{s:8.5,a:'left',c:ann});
arrow(618,42,614,98);

const chart = echarts.init(document.getElementById('c'), null, {renderer:'canvas'});
chart.setOption({animation:false, backgroundColor:'#fff', grid, xAxis, yAxis, series, graphic:{elements:gfx}});
</script></body></html>
